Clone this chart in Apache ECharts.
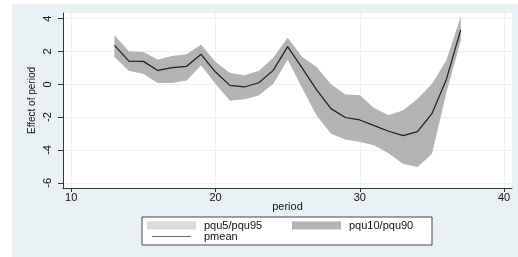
<!DOCTYPE html>
<html><head><meta charset="utf-8">
<script src="https://cdn.jsdelivr.net/npm/echarts@6/dist/echarts.min.js"></script>
<style>html,body{margin:0;padding:0;background:#fff}#c{width:518px;height:257px}</style>
</head><body><div id="c"></div>
<script>
const periods = [13,14,15,16,17,18,19,20,21,22,23,24,25,26,27,28,29,30,31,32,33,34,35,36,37];
const pmean = [2.38,1.42,1.40,0.85,1.02,1.10,1.83,0.75,-0.06,-0.16,0.10,0.85,2.30,1.00,-0.32,-1.48,-2.02,-2.17,-2.52,-2.86,-3.13,-2.88,-1.79,0.30,3.33];
const pqu10 = [1.67,0.83,0.65,0.08,0.10,0.24,1.16,0.04,-0.98,-0.91,-0.67,0.04,1.52,-0.20,-1.89,-3.00,-3.36,-3.50,-3.72,-4.20,-4.84,-5.04,-4.23,-0.50,2.68];
const pqu90 = [2.99,2.01,1.97,1.50,1.73,1.83,2.42,1.36,0.69,0.55,0.81,1.61,2.84,1.67,1.06,0.00,-0.62,-0.67,-1.45,-1.88,-1.59,-0.90,0.02,1.46,4.10];
const pqu5 = pqu10.slice();
const pqu95 = pqu90.slice();
const xTicks = [10,20,30,40];
const yTicks = [-6,-4,-2,0,2,4];

const font = 'Liberation Sans, Arial, sans-serif';
const bandRows = (lo, hi) => periods.map((p,i)=>[p, lo[i], hi[i]]);

function bandRenderer(color){
  return function(params, api){
    if (params.dataIndex !== 0) return null;
    const n = params.dataInsideLength;
    const top = [], bot = [];
    for (let i = 0; i < n; i++) {
      const x = api.value(0, i);
      top.push(api.coord([x, api.value(2, i)]));
      bot.push(api.coord([x, api.value(1, i)]));
    }
    return {type:'polygon', shape:{points: top.concat(bot.reverse())}, style:{fill:color, stroke:null}};
  };
}

const chart = echarts.init(document.getElementById('c'), null, {renderer:'canvas'});
chart.setOption({
  animation:false,
  backgroundColor:'#ffffff',
  graphic:[{type:'rect', z:-10, silent:true, shape:{x:12,y:4,width:506,height:253}, style:{fill:'#e9f1f2'}}],
  grid:{left:63, top:13, right:6, bottom:69, show:true, backgroundColor:'#ffffff', borderWidth:0},
  xAxis:{type:'value', min:9.43, max:40.55,
    name:'period', nameLocation:'middle', nameGap:13, nameMoveOverlap:false,
    nameTextStyle:{fontFamily:font, fontSize:11, color:'#111'},
    axisLine:{show:true, onZero:false, lineStyle:{color:'#333', width:1}},
    axisTick:{show:true, length:4, customValues:xTicks, lineStyle:{color:'#333'}},
    axisLabel:{customValues:xTicks, margin:4, fontFamily:font, fontSize:11, color:'#111'},
    splitLine:{show:true, lineStyle:{color:'#eaf2f3', width:1}}
  },
  yAxis:{type:'value', min:-6.32, max:4.35,
    name:'Effect of period', nameLocation:'middle', nameGap:26, nameRotate:90, nameMoveOverlap:false,
    nameTextStyle:{fontFamily:font, fontSize:10, color:'#111'},
    axisLine:{show:true, onZero:false, lineStyle:{color:'#333', width:1}},
    axisTick:{show:true, length:5, customValues:yTicks, lineStyle:{color:'#333'}},
    axisLabel:{customValues:yTicks, rotate:90, margin:10, fontFamily:font, fontSize:11, color:'#111'},
    splitLine:{show:true, lineStyle:{color:'#eaf2f3', width:1}}
  },
  legend:{left:142, top:217, width:300, padding:[3,-5,3,5], itemGap:0, itemWidth:49, itemHeight:8,
    backgroundColor:'#ffffff', borderColor:'#444', borderWidth:1, borderRadius:0,
    textStyle:{fontFamily:font, fontSize:11, color:'#111', width:80, padding:[0,8,0,3], lineHeight:11},
    data:[
      {name:'pqu5/pqu95', icon:'rect', itemStyle:{color:'#d9d9d9'}},
      {name:'pqu10/pqu90', icon:'rect', itemStyle:{color:'#b3b3b3'}},
      {name:'pmean', icon:'path://M0,0 L0.01,0 L0,0.01 Z M0,4.3 L49,4.3 L49,5.7 L0,5.7 Z M0,10 L0.01,10 L0,9.99 Z', itemStyle:{color:'#666'}}
    ]
  },
  series:[
    {type:'custom', name:'pqu5/pqu95', data:bandRows(pqu5,pqu95), encode:{x:0, y:[1,2]}, renderItem:bandRenderer('#d9d9d9'), itemStyle:{color:'#d9d9d9'}, z:1, clip:true},
    {type:'custom', name:'pqu10/pqu90', data:bandRows(pqu10,pqu90), encode:{x:0, y:[1,2]}, renderItem:bandRenderer('#b3b3b3'), itemStyle:{color:'#b3b3b3'}, z:2, clip:true},
    {type:'line', name:'pmean', data:periods.map((p,i)=>[p, pmean[i]]), symbol:'none', color:'#1e1e1e', lineStyle:{color:'#1e1e1e', width:1.2}, z:3}
  ]
});
</script></body></html>
